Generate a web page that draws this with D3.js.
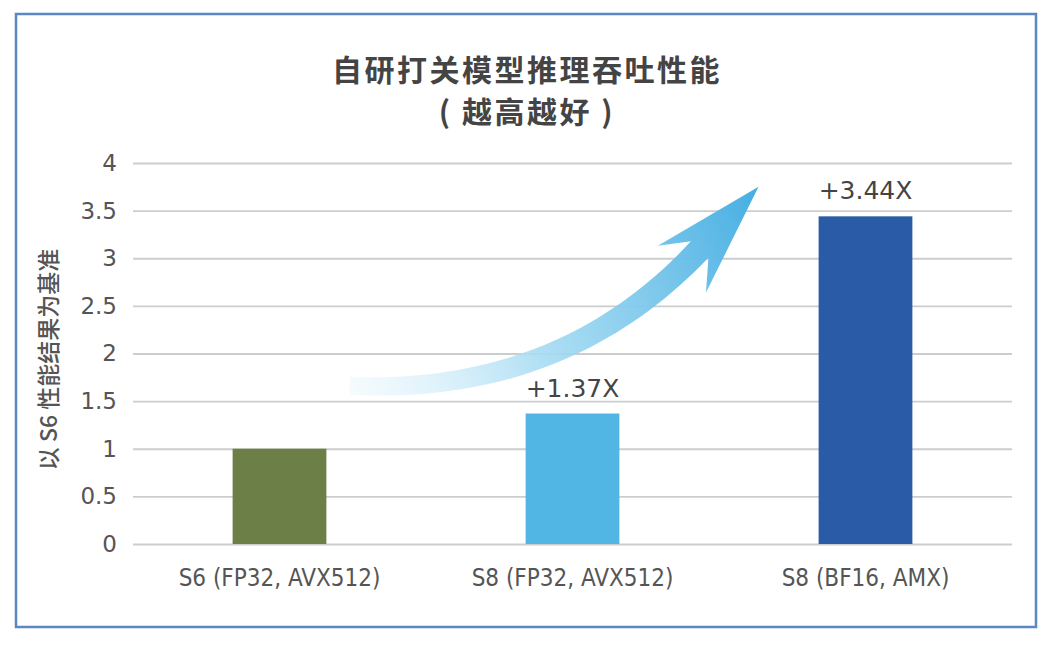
<!DOCTYPE html>
<html>
<head>
<meta charset="utf-8">
<script src="https://cdn.jsdelivr.net/npm/d3@7"></script>
<style>
  body { margin: 0; background: #fff; }
  svg text { font-family: "DejaVu Sans", "Noto Sans CJK SC", sans-serif; }
  .cjk { font-family: "Noto Sans CJK SC", sans-serif; }
  .cond { font-family: "DejaVu Sans Condensed", "DejaVu Sans", sans-serif; font-stretch: condensed; }
</style>
</head>
<body>
<div id="chart"></div>
<script>
'use strict'

// data
const categories = ["S6 (FP32, AVX512)", "S8 (FP32, AVX512)", "S8 (BF16, AMX)"]
const values = [1, 1.37, 3.44]
const valueLabels = ["", "+1.37X", "+3.44X"]
const barColors = ["#6b7f47", "#52b6e4", "#2a5ba7"]
const yTicks = [0, 0.5, 1, 1.5, 2, 2.5, 3, 3.5, 4]
const titleLines = ["自研打关模型推理吞吐性能", "( 越高越好 )"]
const yTitle = "以 S6 性能结果为基准"
// arrow: [category index, value] for start and tip
const arrowStart = [0.24, 1.66]
const arrowTip = [1.635, 3.75]

let width = 1050
let height = 646
let margin = {left: 133, right: 38, top: 163, bottom: 102}

let svg = d3.select("#chart").append("svg")
	.attr("width", width)
	.attr("height", height)

// frame
svg.append("rect")
	.attr("x", 16).attr("y", 14)
	.attr("width", 1020).attr("height", 613)
	.attr("fill", "none")
	.attr("stroke", "#5b87c2")
	.attr("stroke-width", 2.5)

let x = d3.scaleBand().domain(categories)
	.range([margin.left, width - margin.right])
	.paddingInner(0.68).paddingOuter(0.34)
let step = x.step()
let xi = d3.scaleLinear().domain([0, 1])
	.range([x(categories[0]) + x.bandwidth() / 2, x(categories[0]) + x.bandwidth() / 2 + step])
let y = d3.scaleLinear().domain([0, 4]).range([height - margin.bottom, margin.top])

// grid
let yAxis = d3.axisLeft(y).tickValues(yTicks).tickFormat(d3.format("~g"))
	.tickSize(-(width - margin.left - margin.right)).tickPadding(16)
let gy = svg.append("g")
	.attr("transform", "translate(" + margin.left + ",0)")
	.call(yAxis)
gy.select(".domain").remove()
gy.selectAll(".tick line").attr("stroke", "#cdcdcd").attr("stroke-width", 1.8)
gy.selectAll(".tick text").attr("fill", "#555").attr("font-size", 23)
	.style("font-family", "'DejaVu Sans', sans-serif")

// x axis labels
let xAxis = d3.axisBottom(x).tickSize(0).tickPadding(25)
let gx = svg.append("g")
	.attr("transform", "translate(0," + y(0) + ")")
	.call(xAxis)
gx.select(".domain").remove()
gx.selectAll(".tick text").attr("class", "cond").attr("fill", "#555").attr("font-size", 24)

// bars
svg.append("g").selectAll("rect").data(values).join("rect")
	.attr("x", (d, i) => x(categories[i]))
	.attr("y", d => y(d))
	.attr("width", x.bandwidth())
	.attr("height", d => y(0) - y(d))
	.attr("fill", (d, i) => barColors[i])

// value labels
svg.append("g").selectAll("text").data(values).join("text")
	.attr("x", (d, i) => x(categories[i]) + x.bandwidth() / 2)
	.attr("y", d => y(d) - 17)
	.attr("text-anchor", "middle")
	.attr("font-size", 25)
	.attr("fill", "#444")
	.text((d, i) => valueLabels[i])

// arrow
let p0 = [xi(arrowStart[0]), y(arrowStart[1])]
let tip = [xi(arrowTip[0]), y(arrowTip[1])]
let headLen = 86
// direction of head, fixed angle pointing up-right
let ang = -46.8 * Math.PI / 180
let d = [Math.cos(ang), Math.sin(ang)]
let nrm = [d[1], -d[0]]
let p2 = [tip[0] - d[0] * headLen, tip[1] - d[1] * headLen]
let c = [p2[0] - d[0] * 200, p2[1] - d[1] * 200]
c = [c[0], Math.max(c[1], p0[1] + 8)]
function quad(t) {
	let a = (1 - t) * (1 - t), b = 2 * (1 - t) * t, e = t * t
	return [a * p0[0] + b * c[0] + e * p2[0], a * p0[1] + b * c[1] + e * p2[1]]
}
function quadD(t) {
	return [2 * (1 - t) * (c[0] - p0[0]) + 2 * t * (p2[0] - c[0]),
		2 * (1 - t) * (c[1] - p0[1]) + 2 * t * (p2[1] - c[1])]
}
let left = [], right = []
d3.range(0, 1.0001, 0.025).forEach(function(t){
	let p = quad(t), dv = quadD(t)
	let l = Math.hypot(dv[0], dv[1])
	let n = [dv[1] / l, -dv[0] / l]
	let hw = 9 + 3 * t
	left.push([p[0] + n[0] * hw, p[1] + n[1] * hw])
	right.push([p[0] - n[0] * hw, p[1] - n[1] * hw])
})
let wingL = [p2[0] - d[0] * 26 + nrm[0] * 33, p2[1] - d[1] * 26 + nrm[1] * 33]
let wingR = [p2[0] - d[0] * 27 - nrm[0] * 34, p2[1] - d[1] * 27 - nrm[1] * 34]
let pts = left.concat([wingL, tip, wingR]).concat(right.reverse())

let defs = svg.append("defs")
let grad = defs.append("linearGradient").attr("id", "arrowGrad")
	.attr("gradientUnits", "userSpaceOnUse")
	.attr("x1", p0[0]).attr("y1", p0[1])
	.attr("x2", tip[0]).attr("y2", tip[1])
grad.append("stop").attr("offset", "0%").attr("stop-color", "#e6f5fc").attr("stop-opacity", 0.4)
grad.append("stop").attr("offset", "40%").attr("stop-color", "#a8dcf3").attr("stop-opacity", 0.9)
grad.append("stop").attr("offset", "100%").attr("stop-color", "#45aee2").attr("stop-opacity", 1)

svg.append("path")
	.attr("d", d3.line()(pts) + "Z")
	.attr("fill", "url(#arrowGrad)")

// titles
svg.append("g").selectAll("text").data(titleLines).join("text")
	.attr("class", "cjk")
	.attr("x", width / 2 + 2)
	.attr("y", (d, i) => 81 + i * 42)
	.attr("text-anchor", "middle")
	.attr("font-size", 30)
	.attr("font-weight", "bold")
	.attr("fill", "#444")
	.style("letter-spacing", "2.5px")
	.text(d => d)

svg.append("text")
	.attr("class", "cjk")
	.attr("transform", "translate(57," + ((y(0) + y(4)) / 2 + 6) + ") rotate(-90)")
	.attr("text-anchor", "middle")
	.attr("font-size", 23)
	.attr("font-weight", 500)
	.attr("fill", "#555")
	.text(yTitle)
</script>
</body>
</html>
